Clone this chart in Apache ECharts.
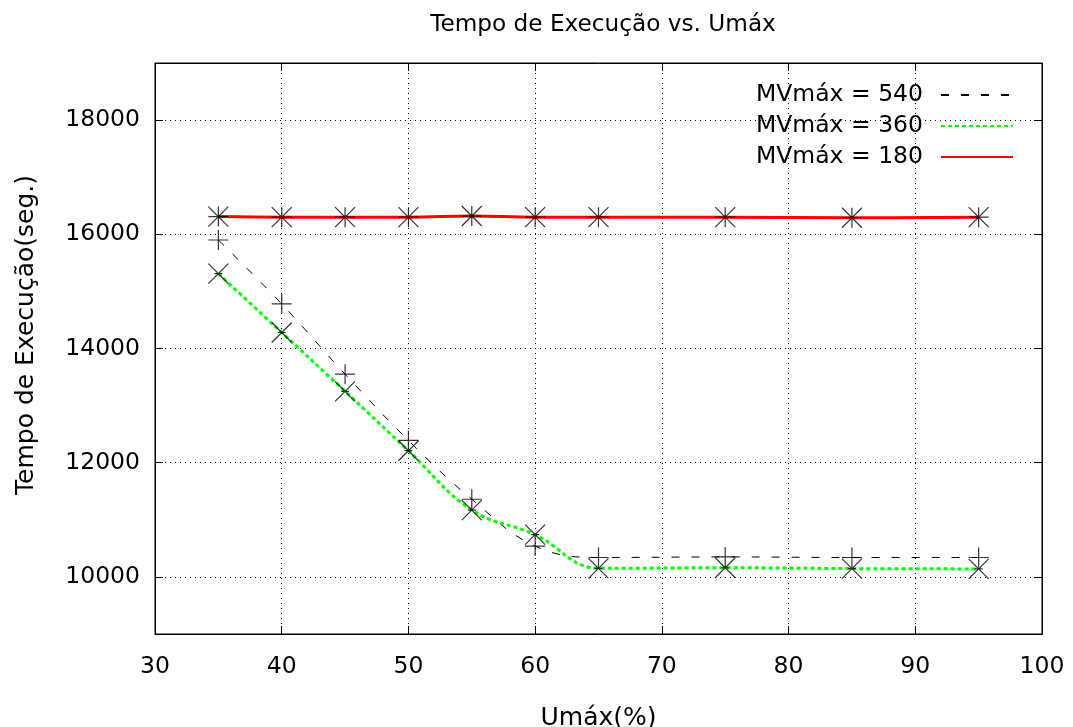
<!DOCTYPE html>
<html>
<head>
<meta charset="utf-8">
<script src="https://cdn.jsdelivr.net/npm/echarts@6/dist/echarts.min.js"></script>
<style>
  html, body { margin: 0; padding: 0; background: #fff; }
  #c { width: 1073px; height: 727px; }
</style>
</head>
<body>
<div id="c"></div>
<script>
/* Tempo de Execução vs. Umáx — três curvas MVmáx */
const umax = [35, 40, 45, 50, 55, 60, 65, 75, 85, 95];
const mv540 = [15900, 14780, 13550, 12390, 11360, 10540, 10340, 10350, 10340, 10340];
const mv360 = [15310, 14280, 13250, 12210, 11170, 10740, 10150, 10160, 10145, 10140];
const mv180 = [16310, 16300, 16300, 16300, 16320, 16300, 16300, 16300, 16290, 16300];
const yTicks = [10000, 12000, 14000, 16000, 18000];

const FONT = 'DejaVu Sans';
const FS = 23.5;
const pts = arr => umax.map((x, i) => [x, arr[i]]);

// marcadores estilo gnuplot: + , x , *
const PLUS = 'path://M0,10L20,10M10,0L10,20';
const CROSS = 'path://M0,0L20,20M0,20L20,0M6,10L14,10';
const STAR = 'path://M0,10L20,10M10,0L10,20M0,0L20,20M0,20L20,0';

const markStyle = { color: 'rgba(0,0,0,0)', borderColor: '#000', borderWidth: 1.2 };
const marks = (data, sym) => ({ type: 'scatter', data, symbol: sym, symbolSize: 20, itemStyle: markStyle, silent: true, z: 5 });

const tickIn = { show: true, inside: true, length: 8, lineStyle: { color: '#000', width: 1 } };
const grid0 = { lineStyle: { color: '#000', type: [1, 4], width: 1 } };
const txt = { fontFamily: FONT, fontSize: FS, color: '#000' };
const nameTxt = { fontFamily: FONT, fontSize: 25, color: '#000' };

const chart = echarts.init(document.getElementById('c'), null, { renderer: 'canvas' });
chart.setOption({
  animation: false,
  title: { text: 'Tempo de Execução vs. Umáx', left: 598, top: 8, textAlign: 'center',
    textStyle: { fontFamily: FONT, fontSize: 23.2, fontWeight: 'normal', color: '#000' } },
  grid: { left: 155, right: 31, top: 63, bottom: 93, show: true, borderColor: '#000', borderWidth: 1,
    outerBoundsMode: 'none', containLabel: false },
  legend: {
    data: ['MVmáx = 540', 'MVmáx = 360', 'MVmáx = 180'],
    orient: 'vertical', right: 54, top: 78, align: 'right',
    itemWidth: 72, itemHeight: 10, itemGap: 7,
    itemStyle: { opacity: 0 },
    textStyle: { fontFamily: FONT, fontSize: 23.5, color: '#000', padding: [0, 13, 0, 0] }
  },
  xAxis: [
    { type: 'value', min: 30, max: 100, interval: 10, position: 'bottom',
      name: 'Umáx(%)', nameLocation: 'middle', nameGap: 72,
      nameTextStyle: nameTxt,
      axisLine: { show: true, lineStyle: { color: '#000' } }, axisTick: tickIn,
      axisLabel: Object.assign({ margin: 21 }, txt),
      splitLine: grid0 },
    { type: 'value', min: 30, max: 100, interval: 10, position: 'top',
      axisLine: { show: true, lineStyle: { color: '#000' } }, axisTick: tickIn,
      axisLabel: { show: false }, splitLine: { show: false } }
  ],
  yAxis: [
    { type: 'value', min: 9000, max: 19000, position: 'left',
      name: 'Tempo de Execução(seg.)', nameLocation: 'middle', nameGap: 116,
      nameTextStyle: Object.assign({ padding: [0, 0, 0, 27] }, nameTxt),
      axisLine: { show: true, lineStyle: { color: '#000' } },
      axisTick: Object.assign({ customValues: yTicks }, tickIn),
      axisLabel: Object.assign({ customValues: yTicks, margin: 15, formatter: v => String(v) }, txt),
      splitLine: grid0 },
    { type: 'value', min: 9000, max: 19000, position: 'right',
      axisLine: { show: true, lineStyle: { color: '#000' } },
      axisTick: Object.assign({ customValues: yTicks }, tickIn),
      axisLabel: { show: false, customValues: yTicks }, splitLine: { show: false } }
  ],
  series: [
    { name: 'MVmáx = 540', type: 'line', data: pts(mv540), smooth: 0.4, symbol: 'none',
      lineStyle: { color: '#000', width: 1, type: [8, 12] }, itemStyle: { color: '#000' } },
    { name: 'MVmáx = 360', type: 'line', data: pts(mv360), smooth: 0.4, symbol: 'none',
      lineStyle: { color: '#00ff00', width: 3, type: [4, 3] }, itemStyle: { color: '#00ff00' } },
    { name: 'MVmáx = 180', type: 'line', data: pts(mv180), smooth: 0.4, symbol: 'none',
      lineStyle: { color: '#ff0000', width: 3 }, itemStyle: { color: '#ff0000' } },
    marks(pts(mv540), PLUS),
    marks(pts(mv360), CROSS),
    marks(pts(mv180), STAR)
  ]
});
</script>
</body>
</html>
